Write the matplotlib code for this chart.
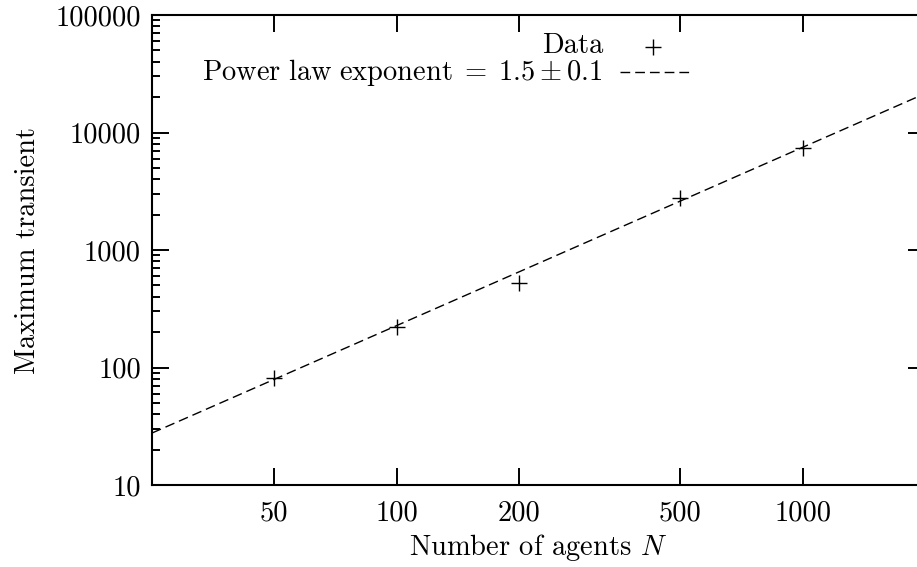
import matplotlib
matplotlib.use("Agg")
import matplotlib.pyplot as plt
import numpy as np
from matplotlib.ticker import FixedLocator, LogLocator, NullLocator, FixedFormatter

plt.rcParams['font.family'] = ['cmr10', 'DejaVu Serif']
plt.rcParams['mathtext.fontset'] = 'cm'
plt.rcParams['axes.formatter.use_mathtext'] = True

# Data
agents = [50, 100, 200, 500, 1000]
transient = [81, 221, 524, 2770, 7380]
fit_exponent = 1.518
fit_prefactor = 0.209
xticks = [50, 100, 200, 500, 1000]
xticklabels = ['50', '100', '200', '500', '1000']
yticks = [10, 100, 1000, 10000, 100000]
yticklabels = ['10', '100', '1000', '10000', '100000']

FS = 20.5
W, H = 917, 567
fig = plt.figure(figsize=(W / 100, H / 100), dpi=100)
left, right, top, bottom = 152, 925, 15, 485
ax = fig.add_axes([left / W, (H - bottom) / H, (right - left) / W, (bottom - top) / H])
ax.set_xscale('log')
ax.set_yscale('log')
ax.set_xlim(25, 2000)
ax.set_ylim(10, 100000)

xf = np.logspace(np.log10(25), np.log10(2000), 200)
ax.plot(xf, fit_prefactor * xf ** fit_exponent, color='black', lw=1.0,
        dashes=(7, 3.6))
ax.plot(agents, transient, linestyle='none', marker='+', color='black',
        markersize=12, markeredgewidth=1.0)

ax.xaxis.set_major_locator(FixedLocator(xticks))
ax.xaxis.set_major_formatter(FixedFormatter(xticklabels))
ax.xaxis.set_minor_locator(NullLocator())
ax.yaxis.set_major_locator(FixedLocator(yticks))
ax.yaxis.set_major_formatter(FixedFormatter(yticklabels))
ax.yaxis.set_minor_locator(LogLocator(base=10, subs=np.arange(2, 10)))
ax.yaxis.set_minor_formatter(FixedFormatter([]))

ax.tick_params(which='both', direction='in', top=True, right=True,
               labelsize=FS, width=1.4, colors='black')
ax.tick_params(which='major', length=12)
ax.tick_params(which='minor', length=5.5)
ax.tick_params(axis='x', pad=11)
ax.tick_params(axis='y', pad=8)
for s in ax.spines.values():
    s.set_linewidth(1.5)

ax.set_xlabel(r'Number of agents $N$', fontsize=FS, labelpad=4)
ax.set_ylabel('Maximum transient', fontsize=FS, labelpad=10)

# Legend (gnuplot style: right-justified text, sample on the right)
def px(x, y):
    return ((x - left) / (right - left), (bottom - y) / (bottom - top))

tx, ty = px(603, 46)
ax.text(tx, ty, 'Data', transform=ax.transAxes, ha='right', va='center', fontsize=FS)
mx, my = px(653, 47)
ax.plot([mx], [my], transform=ax.transAxes, marker='+', color='black',
        markersize=12, markeredgewidth=1.0, linestyle='none', clip_on=False)
tx2, ty2 = px(603, 73)
ax.text(tx2, ty2, r'$\mathrm{Power\ law\ exponent}\;=\;1.5 \pm 0.1$', transform=ax.transAxes,
        ha='right', va='center', fontsize=FS)
l1x, l1y = px(620, 72)
l2x, _ = px(690, 72)
ax.plot([l1x, l2x], [l1y, l1y], transform=ax.transAxes, color='black', lw=1.0,
        dashes=(7, 3.6), clip_on=False)

fig.savefig('out.png', dpi=100)
